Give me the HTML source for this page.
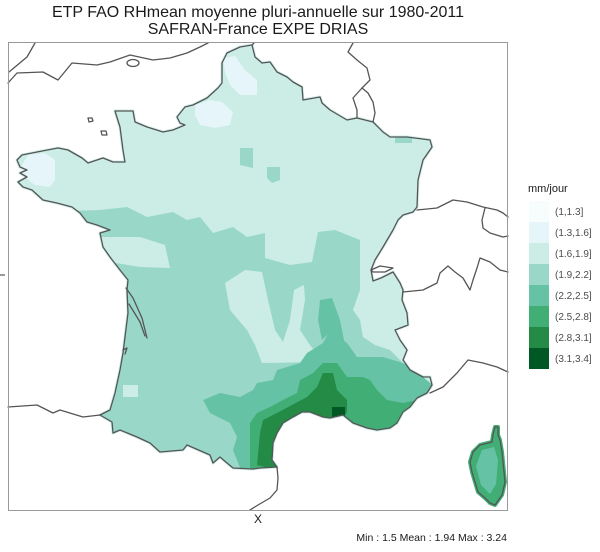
<!DOCTYPE html>
<html>
<head>
<meta charset="utf-8">
<style>
  html, body { margin: 0; padding: 0; background: #ffffff; }
  svg { display: block; }
  text { font-family: "Liberation Sans", "DejaVu Sans", sans-serif; }
</style>
</head>
<body>
<svg width="600" height="552" viewBox="0 0 600 552" xmlns="http://www.w3.org/2000/svg">
  <rect x="0" y="0" width="600" height="552" fill="#ffffff"/>

  <!-- Title -->
  <text x="258" y="17" font-size="16" fill="#1a1a1a" text-anchor="middle">ETP FAO RHmean moyenne pluri-annuelle sur 1980-2011</text>
  <text x="258" y="34" font-size="16" fill="#1a1a1a" text-anchor="middle">SAFRAN-France EXPE DRIAS</text>

  <defs>
    <clipPath id="fr">
      <polygon id="frpoly" points="252,45 255,57 262,63 270,62 277,72 287,77 293,82 302,87 303,100 320,97 322,103 330,110 347,120 357,118 373,122 383,132 390,137 407,137 430,140 432,147 423,160 418,180 417,207 413,212 403,215 398,220 393,230 383,247 375,260 371,270 373,281 381,278 393,272 400,283 403,290 402,300 407,313 408,325 395,330 400,340 407,350 403,360 410,370 423,377 430,377 432,385 427,393 417,398 410,407 403,412 397,423 390,428 377,430 367,428 353,423 343,415 330,418 323,417 310,412 302,412 293,417 283,423 277,433 273,443 272,460 277,467 260,468 253,469 233,468 227,463 220,457 213,463 210,455 187,445 183,450 160,452 150,443 137,437 120,430 113,433 112,422 100,415 110,410 115,393 120,370 123,353 125,337 128,313 127,290 128,280 120,270 110,257 103,247 100,233 110,230 97,225 87,222 80,213 72,207 57,203 43,200 32,190 23,187 18,182 27,177 20,173 27,170 20,167 17,160 22,155 37,152 58,148 68,150 82,158 88,163 103,158 113,162 125,162 123,150 120,127 115,111 133,111 135,122 147,127 163,132 173,130 185,125 180,123 177,117 185,107 193,105 207,98 218,88 222,83 222,63 227,53 240,47"/>
    </clipPath>
  </defs>

  <!-- Base France fill (with raster fringe) -->
  <polygon points="252,45 255,57 262,63 270,62 277,72 287,77 293,82 302,87 303,100 320,97 322,103 330,110 347,120 357,118 373,122 383,132 390,137 407,137 430,140 432,147 423,160 418,180 417,207 413,212 403,215 398,220 393,230 383,247 375,260 371,270 373,281 381,278 393,272 400,283 403,290 402,300 407,313 408,325 395,330 400,340 407,350 403,360 410,370 423,377 430,377 432,385 427,393 417,398 410,407 403,412 397,423 390,428 377,430 367,428 353,423 343,415 330,418 323,417 310,412 302,412 293,417 283,423 277,433 273,443 272,460 277,467 260,468 253,469 233,468 227,463 220,457 213,463 210,455 187,445 183,450 160,452 150,443 137,437 120,430 113,433 112,422 100,415 110,410 115,393 120,370 123,353 125,337 128,313 127,290 128,280 120,270 110,257 103,247 100,233 110,230 97,225 87,222 80,213 72,207 57,203 43,200 32,190 23,187 18,182 27,177 20,173 27,170 20,167 17,160 22,155 37,152 58,148 68,150 82,158 88,163 103,158 113,162 125,162 123,150 120,127 115,111 133,111 135,122 147,127 163,132 173,130 185,125 180,123 177,117 185,107 193,105 207,98 218,88 222,83 222,63 227,53 240,47" fill="#ccece6" stroke="#ccece6" stroke-width="3" stroke-linejoin="round"/>

  <g clip-path="url(#fr)">
    <!-- (1.3,1.6] patches in the north and Brittany -->
    <polygon points="223,58 235,56 245,70 257,80 257,95 240,95 230,85 225,72" fill="#e5f5f9"/>
    <polygon points="195,105 210,100 222,102 233,112 230,125 215,128 200,125 195,115" fill="#e5f5f9"/>
    <polygon points="28,155 45,153 55,160 55,180 50,187 35,185 22,175 22,165" fill="#e5f5f9"/>

    <!-- small (1.9,2.2] patches north -->
    <polygon points="267,167 280,167 280,180 272,183 267,178" fill="#99d8c9"/>
    <polygon points="395,137 412,137 412,143 395,143" fill="#99d8c9"/>
    <polygon points="240,148 253,148 253,168 240,165" fill="#99d8c9"/>

    <!-- (1.9,2.2] main region -->
    <polygon points="40,212 100,210 127,207 147,217 173,212 187,220 200,217 213,233 233,227 247,237 265,233 275,240 290,250 305,245 318,232 335,230 360,240 360,290 353,310 360,320 363,337 375,345 390,350 403,363 423,377 445,395 445,480 40,480" fill="#99d8c9"/>

    <!-- light intrusions back to (1.6,1.9] -->
    <polygon points="265,233 318,232 312,262 290,265 265,258" fill="#ccece6"/>
    <polygon points="225,283 245,270 262,272 268,300 275,330 283,342 290,320 294,290 304,285 305,300 300,330 310,345 323,362 262,363 255,345 247,330 230,310" fill="#ccece6"/>
    <polygon points="100,237 140,237 165,245 170,268 140,267 110,262 100,250" fill="#ccece6"/>
    <polygon points="123,385 138,385 138,397 123,397" fill="#ccece6"/>

    <!-- (2.2,2.5] -->
    <polygon points="203,400 220,393 240,397 253,390 257,383 273,380 277,370 300,363 307,353 323,343 330,330 347,343 357,357 383,357 403,363 423,377 430,383 445,395 445,480 245,480 233,450 237,437 230,423 210,413" fill="#66c2a4"/>
    <polygon points="320,300 332,298 340,320 345,345 330,332 322,340 318,320" fill="#66c2a4"/>

    <!-- (2.5,2.8] -->
    <polygon points="250,423 257,413 270,407 283,400 297,393 300,380 313,373 323,363 337,363 347,377 363,377 370,380 377,390 387,400 403,403 417,400 445,398 445,480 250,480" fill="#41ae76"/>

    <!-- (2.8,3.1] -->
    <polygon points="257,465 260,433 263,420 277,413 307,397 317,387 323,373 333,373 337,390 347,400 347,412 340,425 300,425 278,440 278,470" fill="#238b45"/>

    <!-- (3.1,3.4] -->
    <polygon points="332,407 345,407 345,417 332,417" fill="#005824"/>
  </g>

  <!-- Corsica -->
  <polygon points="495,427 498,427 498,435 500,440 502,452 503,462 505,482 502,495 495,505 490,503 485,498 478,492 475,482 472,472 470,462 473,452 480,445 492,442 493,435" fill="#41ae76" stroke="#41ae76" stroke-width="4" stroke-linejoin="round"/>
  <polygon points="482,450 494,447 498,460 496,484 490,494 481,485 476,466" fill="#66c2a4"/>

  <!-- Coastlines / borders -->
  <g fill="none" stroke="#555555" stroke-width="1.3" stroke-linejoin="round" stroke-linecap="round">
    <polygon points="252,45 255,57 262,63 270,62 277,72 287,77 293,82 302,87 303,100 320,97 322,103 330,110 347,120 357,118 373,122 383,132 390,137 407,137 430,140 432,147 423,160 418,180 417,207 413,212 403,215 398,220 393,230 383,247 375,260 371,270 373,281 381,278 393,272 400,283 403,290 402,300 407,313 408,325 395,330 400,340 407,350 403,360 410,370 423,377 430,377 432,385 427,393 417,398 410,407 403,412 397,423 390,428 377,430 367,428 353,423 343,415 330,418 323,417 310,412 302,412 293,417 283,423 277,433 273,443 272,460 277,467 260,468 253,469 233,468 227,463 220,457 213,463 210,455 187,445 183,450 160,452 150,443 137,437 120,430 113,433 112,422 100,415 110,410 115,393 120,370 123,353 125,337 128,313 127,290 128,280 120,270 110,257 103,247 100,233 110,230 97,225 87,222 80,213 72,207 57,203 43,200 32,190 23,187 18,182 27,177 20,173 27,170 20,167 17,160 22,155 37,152 58,148 68,150 82,158 88,163 103,158 113,162 125,162 123,150 120,127 115,111 133,111 135,122 147,127 163,132 173,130 185,125 180,123 177,117 185,107 193,105 207,98 218,88 222,83 222,63 227,53 240,47"/>
    <polygon points="495,427 498,427 498,435 500,440 502,452 503,462 505,482 502,495 495,505 490,503 485,498 478,492 475,482 472,472 470,462 473,452 480,445 492,442 493,435"/>
    <!-- UK -->
    <polyline points="8,83 17,73 43,72 58,80 72,63 97,65 110,62 130,55 153,60 170,58 187,53 200,47 208,43"/>
    <polyline points="35,43 27,57 9,72"/>
    <ellipse cx="133" cy="63" rx="6" ry="3.5"/>
    <polygon points="88,118 92,118 93,121 89,122"/>
    <polygon points="101,131 106,131 107,135 102,135"/>
    <polyline points="252,45 254,43"/>
    <!-- Belgium / Lux / Germany -->
    <polyline points="353,43 348,52 357,60 367,68 370,80 362,88"/>
    <polyline points="362,88 353,98 357,110 357,118"/>
    <polyline points="362,88 368,93 373,102 375,113 373,122"/>
    <!-- Switzerland / Austria / Italy -->
    <polyline points="417,210 437,208 447,203 453,200 467,202 483,207 497,210 503,213 508,217"/>
    <polyline points="485,208 482,220 483,228 490,233 503,237 508,236"/>
    <polyline points="403,292 423,290 437,283 440,273 448,266 455,272 463,278 470,290 473,280 477,268 480,258 490,262 500,270 508,272"/>
    <polygon points="371,270 380,266 393,268 385,272 373,272"/>
    <polyline points="430,393 443,387 457,373 468,360 483,363 497,367 508,372"/>
    <!-- Spain -->
    <polyline points="8,407 37,405 53,413 60,410 83,417 100,415"/>
    <polyline points="277,467 278,478 277,490 270,498 258,505 250,510"/>
    <!-- Gironde -->
    <polyline points="126,288 133,298 142,318 147,338"/>
    <polyline points="129,304 140,322 145,336"/>
    <polyline points="123,350 127,348 125,354"/>
  </g>

  <!-- Panel border -->
  <rect x="8.5" y="42.5" width="499" height="468" fill="none" stroke="#999999" stroke-width="1"/>
  <line x1="0" y1="275" x2="5" y2="275" stroke="#333333" stroke-width="1"/>

  <!-- Axis label -->
  <text x="258" y="523" font-size="12" fill="#1a1a1a" text-anchor="middle">X</text>

  <!-- Stats -->
  <text x="507" y="541" font-size="10.5" fill="#1a1a1a" text-anchor="end">Min : 1.5 Mean : 1.94 Max : 3.24</text>

  <!-- Legend -->
  <text x="528" y="192" font-size="11" fill="#1a1a1a">mm/jour</text>
  <rect x="529" y="201" width="20" height="21" fill="#f7fcfd"/>
  <rect x="529" y="222" width="20" height="21" fill="#e5f5f9"/>
  <rect x="529" y="243" width="20" height="21" fill="#ccece6"/>
  <rect x="529" y="264" width="20" height="21" fill="#99d8c9"/>
  <rect x="529" y="285" width="20" height="21" fill="#66c2a4"/>
  <rect x="529" y="306" width="20" height="21" fill="#41ae76"/>
  <rect x="529" y="327" width="20" height="21" fill="#238b45"/>
  <rect x="529" y="348" width="20" height="21" fill="#005824"/>
  <g font-size="10" fill="#4d4d4d">
    <text x="555" y="215">(1,1.3]</text>
    <text x="555" y="236">(1.3,1.6]</text>
    <text x="555" y="257">(1.6,1.9]</text>
    <text x="555" y="278">(1.9,2.2]</text>
    <text x="555" y="299">(2.2,2.5]</text>
    <text x="555" y="320">(2.5,2.8]</text>
    <text x="555" y="341">(2.8,3.1]</text>
    <text x="555" y="362">(3.1,3.4]</text>
  </g>
</svg>
</body>
</html>
